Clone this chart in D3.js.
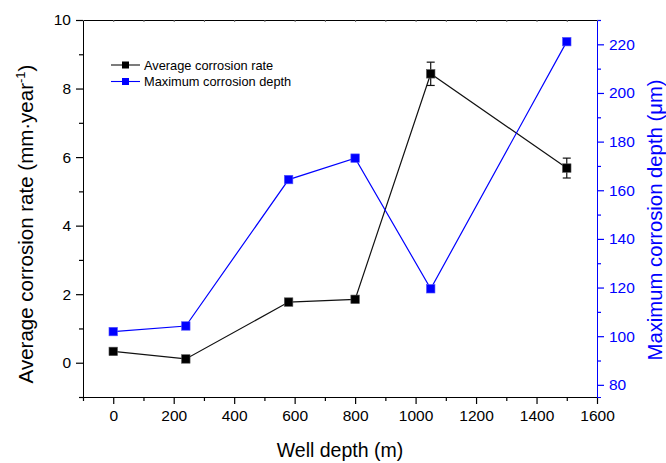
<!DOCTYPE html>
<html>
<head>
<meta charset="utf-8">
<script src="https://cdn.jsdelivr.net/npm/d3@7"></script>
<style>
  body { margin: 0; background: #fff; }
  svg { font-family: "Liberation Sans", Arial, sans-serif; }
  .domain { shape-rendering: crispEdges; }
</style>
</head>
<body>
<svg class="corrosion-chart" width="666" height="463"></svg>
<script>
// values
const depths = [0, 240, 580, 800, 1050, 1500];
const avgRate = [0.33, 0.11, 1.77, 1.85, 8.43, 5.68];
const rateErr = [0, 0, 0, 0, 0.34, 0.29];
const maxDepth = [101.9, 104.2, 164.4, 173.2, 119.5, 221.1];

const xMajor = [0, 200, 400, 600, 800, 1000, 1200, 1400, 1600];
const xMinor = [-100, 100, 300, 500, 700, 900, 1100, 1300, 1500];
const leftMajor = [0, 2, 4, 6, 8, 10];
const leftMinor = [-1, 1, 3, 5, 7, 9];
const rightMajor = [80, 100, 120, 140, 160, 180, 200, 220];
const rightMinor = [90, 110, 130, 150, 170, 190, 210, 230];

const legendNames = ['Average corrosion rate', 'Maximum corrosion depth'];
const blue = '#0000ff';

const svg = d3.select('svg.corrosion-chart');
const pLeft = 83, pRight = 597, pTop = 20, pBottom = 397;

const x = d3.scaleLinear().domain([-100, 1600]).range([pLeft, pRight]);
const yL = d3.scaleLinear().domain([-1, 10]).range([pBottom, pTop]);
const yR = d3.scaleLinear().domain([75, 230]).range([pBottom, pTop]);
const fmt = d3.format('d');

function styleAxis(g, color, size){
  g.selectAll('.domain').attr('stroke', color).attr('stroke-width', 1.3);
  g.selectAll('.tick line').attr('stroke', color).attr('stroke-width', 1.2);
  g.selectAll('.tick text').attr('fill', color).style('font-size', size + 'px');
}

// minor ticks first
svg.append('g').attr('transform', `translate(0,${pBottom})`)
  .call(d3.axisBottom(x).tickValues(xMinor).tickSize(4).tickFormat(''))
  .call(g => styleAxis(g, '#000', 15));
svg.append('g').attr('transform', `translate(${pLeft},0)`)
  .call(d3.axisLeft(yL).tickValues(leftMinor).tickSize(4).tickFormat(''))
  .call(g => styleAxis(g, '#000', 15));
svg.append('g').attr('transform', `translate(${pRight},0)`)
  .call(d3.axisRight(yR).tickValues(rightMinor).tickSize(4).tickFormat(''))
  .call(g => styleAxis(g, blue, 15));

// top frame with tiny inward ticks
svg.append('g').attr('transform', `translate(0,${pTop})`)
  .call(d3.axisTop(x).tickValues(xMajor.concat(xMinor)).tickSize(-2).tickSizeOuter(0).tickFormat(''))
  .call(g => styleAxis(g, '#000', 15))
  .call(g => g.selectAll('.tick line').attr('stroke', '#666').attr('stroke-width', 1));

// major ticks + labels
svg.append('g').attr('transform', `translate(0,${pBottom})`)
  .call(d3.axisBottom(x).tickValues(xMajor).tickSize(7).tickSizeOuter(0).tickPadding(6).tickFormat(fmt))
  .call(g => styleAxis(g, '#000', 15.5));
svg.append('g').attr('transform', `translate(${pLeft},0)`)
  .call(d3.axisLeft(yL).tickValues(leftMajor).tickSize(7).tickSizeOuter(0).tickPadding(5).tickFormat(fmt))
  .call(g => styleAxis(g, '#000', 15.5));
svg.append('g').attr('transform', `translate(${pRight},0)`)
  .call(d3.axisRight(yR).tickValues(rightMajor).tickSize(7).tickSizeOuter(0).tickPadding(5).tickFormat(fmt))
  .call(g => styleAxis(g, blue, 15.5));

// axis titles
svg.append('text').attr('x', (pLeft + pRight) / 2).attr('y', 457)
  .attr('text-anchor', 'middle').style('font-size', '19.5px').text('Well depth (m)');

const lt = svg.append('text')
  .attr('transform', 'translate(33,224) rotate(-90)')
  .attr('text-anchor', 'middle').style('font-size', '20.5px');
lt.append('tspan').text('Average corrosion rate (mm\u00b7year');
lt.append('tspan').attr('dy', -8).style('font-size', '13px').text('-1');
lt.append('tspan').attr('dy', 8).text(')');

svg.append('text')
  .attr('transform', 'translate(662,220) rotate(-90)')
  .attr('text-anchor', 'middle').attr('fill', blue).style('font-size', '20.3px')
  .text('Maximum corrosion depth (\u03bcm)');

// series
const rateData = depths.map((d, i) => ({x: d, y: avgRate[i], e: rateErr[i]}));
const depthData = depths.map((d, i) => ({x: d, y: maxDepth[i]}));

const lineL = d3.line().x(d => x(d.x)).y(d => yL(d.y));
const lineR = d3.line().x(d => x(d.x)).y(d => yR(d.y));

svg.append('path').datum(rateData).attr('d', lineL)
  .attr('fill', 'none').attr('stroke', '#111').attr('stroke-width', 1.2);
svg.append('path').datum(depthData).attr('d', lineR)
  .attr('fill', 'none').attr('stroke', blue).attr('stroke-width', 1.2);

// error bars
const eb = svg.append('g').attr('stroke', '#111').attr('stroke-width', 1.2);
rateData.filter(d => d.e > 0).forEach(d => {
  const cx = x(d.x), y1 = yL(d.y - d.e), y2 = yL(d.y + d.e);
  eb.append('line').attr('x1', cx).attr('x2', cx).attr('y1', y1).attr('y2', y2);
  eb.append('line').attr('x1', cx - 4).attr('x2', cx + 4).attr('y1', y1).attr('y2', y1);
  eb.append('line').attr('x1', cx - 4).attr('x2', cx + 4).attr('y1', y2).attr('y2', y2);
});

const ms = 8.5;
svg.append('g').selectAll('rect').data(rateData).join('rect')
  .attr('x', d => x(d.x) - ms / 2).attr('y', d => yL(d.y) - ms / 2)
  .attr('width', ms).attr('height', ms)
  .attr('fill', '#000').attr('stroke', '#555').attr('stroke-width', 0.6);
svg.append('g').selectAll('rect').data(depthData).join('rect')
  .attr('x', d => x(d.x) - ms / 2).attr('y', d => yR(d.y) - ms / 2)
  .attr('width', ms).attr('height', ms)
  .attr('fill', blue).attr('stroke', '#5555ff').attr('stroke-width', 0.6);

// legend
const legend = svg.append('g').attr('transform', 'translate(111,65)');
legendNames.forEach((name, i) => {
  const c = i === 0 ? '#111' : blue;
  const row = legend.append('g').attr('transform', `translate(0,${i * 16.5})`);
  row.append('line').attr('x1', 0).attr('x2', 29).attr('stroke', c).attr('stroke-width', 1.1);
  row.append('rect').attr('x', 11).attr('y', -3.5).attr('width', 7).attr('height', 7).attr('fill', i === 0 ? '#000' : blue);
  row.append('text').attr('x', 33).attr('y', 4.5).style('font-size', '12.8px').text(name);
});
</script>
</body>
</html>
